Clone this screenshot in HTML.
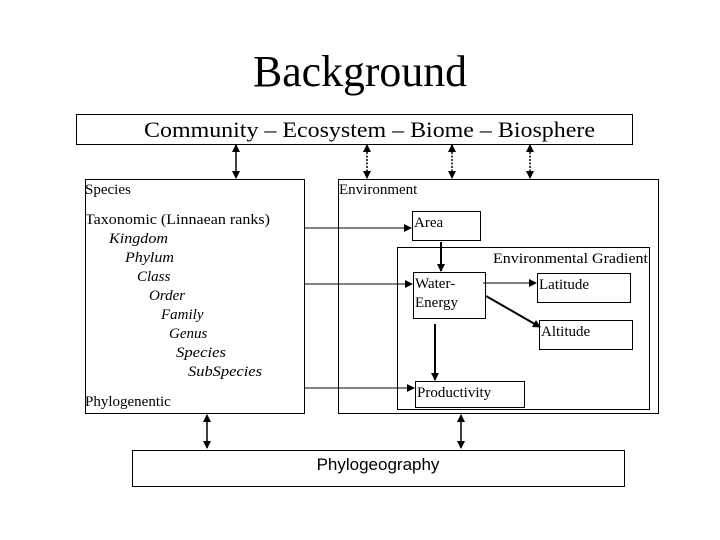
<!DOCTYPE html>
<html><head><meta charset="utf-8"><style>
html,body{margin:0;padding:0;background:#fff;}
svg{display:block;}
text{font-family:"Liberation Serif",serif;fill:#000;}
</style></head><body>
<svg width="720" height="540" viewBox="0 0 720 540" xmlns="http://www.w3.org/2000/svg">
<defs>
<marker id="a" markerWidth="8" markerHeight="8" refX="7" refY="4" orient="auto" markerUnits="userSpaceOnUse"><path d="M0,0 L8,4 L0,8 z" fill="#000"/></marker>
<marker id="s" markerWidth="8" markerHeight="8" refX="1" refY="4" orient="auto" markerUnits="userSpaceOnUse"><path d="M8,0 L0,4 L8,8 z" fill="#000"/></marker>
</defs>
<text x="253" y="86" font-size="44" textLength="214" lengthAdjust="spacingAndGlyphs">Background</text>
<rect x="76.5" y="114.5" width="556" height="30" fill="none" stroke="#000"/>
<text x="144" y="137" font-size="22" textLength="451" lengthAdjust="spacingAndGlyphs">Community – Ecosystem – Biome – Biosphere</text>
<g stroke="#000" stroke-width="1.5">
<line x1="236" y1="145" x2="236" y2="178" marker-start="url(#s)" marker-end="url(#a)"/>
<line x1="367" y1="145" x2="367" y2="178" stroke-dasharray="2,1.5" marker-start="url(#s)" marker-end="url(#a)"/>
<line x1="452" y1="145" x2="452" y2="178" stroke-dasharray="2,1.5" marker-start="url(#s)" marker-end="url(#a)"/>
<line x1="530" y1="145" x2="530" y2="178" stroke-dasharray="2,1.5" marker-start="url(#s)" marker-end="url(#a)"/>
<line x1="207" y1="415" x2="207" y2="448" marker-start="url(#s)" marker-end="url(#a)"/>
<line x1="461" y1="415" x2="461" y2="448" marker-start="url(#s)" marker-end="url(#a)"/>
</g>
<g fill="none" stroke="#000">
<rect x="85.5" y="179.5" width="219" height="234"/>
<rect x="338.5" y="179.5" width="320" height="234"/>
<rect x="412.5" y="211.5" width="68" height="29"/>
<rect x="397.5" y="247.5" width="252" height="162"/>
<rect x="413.5" y="272.5" width="72" height="46"/>
<rect x="537.5" y="273.5" width="93" height="29"/>
<rect x="539.5" y="320.5" width="93" height="29"/>
<rect x="415.5" y="381.5" width="109" height="26"/>
<rect x="132.5" y="450.5" width="492" height="36"/>
</g>
<g stroke="#000" stroke-width="1">
<line x1="304" y1="228" x2="411" y2="228" marker-end="url(#a)"/>
<line x1="304" y1="284" x2="412" y2="284" marker-end="url(#a)"/>
<line x1="304" y1="388" x2="414" y2="388" marker-end="url(#a)"/>
<line x1="483" y1="283" x2="536" y2="283" marker-end="url(#a)"/>
</g>
<g stroke="#000" stroke-width="2">
<line x1="441" y1="242" x2="441" y2="271" marker-end="url(#a)"/>
<line x1="435" y1="324" x2="435" y2="380" marker-end="url(#a)"/>
<line x1="486" y1="296" x2="540" y2="327" marker-end="url(#a)"/>
</g>
<g font-size="15">
<text x="85" y="194">Species</text>
<text x="339" y="194">Environment</text>
<text x="85" y="224" textLength="185" lengthAdjust="spacingAndGlyphs">Taxonomic (Linnaean ranks)</text>
<g font-style="italic">
<text x="109" y="243" textLength="59" lengthAdjust="spacingAndGlyphs">Kingdom</text>
<text x="125" y="262" textLength="49" lengthAdjust="spacingAndGlyphs">Phylum</text>
<text x="137" y="281">Class</text>
<text x="149" y="300">Order</text>
<text x="161" y="319">Family</text>
<text x="169" y="338">Genus</text>
<text x="176" y="357" textLength="50" lengthAdjust="spacingAndGlyphs">Species</text>
<text x="188" y="376" textLength="74" lengthAdjust="spacingAndGlyphs">SubSpecies</text>
</g>
<text x="85" y="406">Phylogenentic</text>
<text x="414" y="227">Area</text>
<text x="493" y="263" textLength="155" lengthAdjust="spacingAndGlyphs">Environmental Gradient</text>
<text x="415" y="288">Water-</text>
<text x="415" y="307">Energy</text>
<text x="539" y="289">Latitude</text>
<text x="541" y="336">Altitude</text>
<text x="417" y="397">Productivity</text>
</g>
<text x="378" y="470" font-size="17" text-anchor="middle" style="font-family:'Liberation Sans',sans-serif">Phylogeography</text>
</svg>
</body></html>
